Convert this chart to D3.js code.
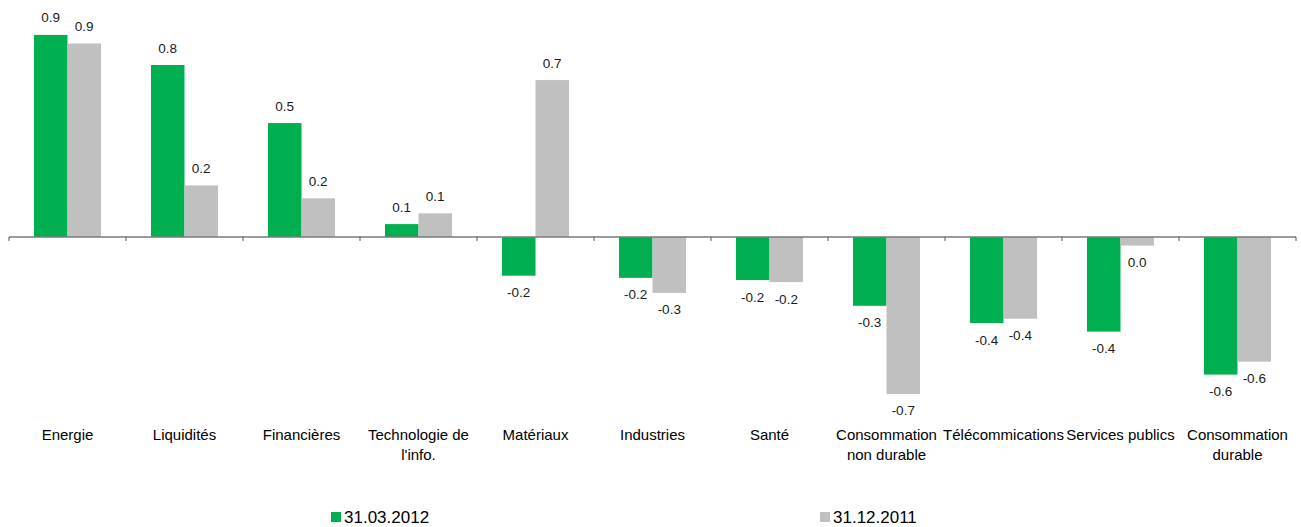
<!DOCTYPE html>
<html>
<head>
<meta charset="utf-8">
<script src="https://cdn.jsdelivr.net/npm/d3@7"></script>
<style>
  html, body { margin: 0; padding: 0; background: #fff; }
  svg { display: block; font-family: "Liberation Sans", Arial, sans-serif; }
</style>
</head>
<body>
<svg id="chart" width="1301" height="527"></svg>
<script>
const categories = [
  ["Energie"],
  ["Liquidités"],
  ["Financières"],
  ["Technologie de", "l'info."],
  ["Matériaux"],
  ["Industries"],
  ["Santé"],
  ["Consommation", "non durable"],
  ["Télécommications"],
  ["Services publics"],
  ["Consommation", "durable"]
];
const seriesNames = ["31.03.2012", "31.12.2011"];
const values2012 = [0.94, 0.80, 0.53, 0.06, -0.18, -0.19, -0.20, -0.32, -0.40, -0.44, -0.64];
const values2011 = [0.90, 0.24, 0.18, 0.11, 0.73, -0.26, -0.21, -0.73, -0.38, -0.04, -0.58];
const colors = ["#00B050", "#C0C0C0"];

const svg = d3.select("#chart");
const catKeys = categories.map((c, i) => i);
const series = [values2012, values2011];

const x0 = d3.scaleBand().domain(catKeys).range([9, 1296]).padding(0);
const x1 = d3.scaleBand().domain([0, 1]).range([0, x0.bandwidth()]).paddingInner(0).paddingOuter(0.745);
const y = d3.scaleLinear().domain([-1, 1]).range([237 + 215, 237 - 215]);

const fmt = v => Math.abs(v) < 0.05 ? "0.0" : v.toFixed(1);

const groups = svg.append("g").selectAll("g")
  .data(catKeys).join("g")
  .attr("transform", d => `translate(${x0(d)},0)`);

groups.selectAll("rect")
  .data(d => series.map((s, si) => ({ si, v: s[d] })))
  .join("rect")
  .attr("x", d => x1(d.si))
  .attr("width", x1.bandwidth())
  .attr("y", d => y(Math.max(0, d.v)))
  .attr("height", d => Math.abs(y(d.v) - y(0)))
  .attr("fill", d => colors[d.si]);

groups.selectAll("text.val")
  .data(d => series.map((s, si) => ({ si, v: s[d] })))
  .join("text")
  .attr("class", "val")
  .attr("x", d => x1(d.si) + x1.bandwidth() / 2)
  .attr("y", d => d.v >= 0 ? y(d.v) - 12.5 : y(d.v) + 21.5)
  .attr("text-anchor", "middle")
  .attr("font-size", 13.5)
  .attr("fill", "#1a1a1a")
  .text(d => fmt(d.v));

// axis
const axis = svg.append("g").attr("transform", `translate(0,${y(0)})`);
axis.append("line")
  .attr("x1", x0.range()[0]).attr("x2", x0.range()[1])
  .attr("y1", 0).attr("y2", 0)
  .attr("stroke", "#7a7a7a").attr("stroke-width", 1.5);
const tickPos = catKeys.map(k => x0(k)).concat([x0.range()[1]]);
axis.selectAll("line.tick").data(tickPos).join("line")
  .attr("class", "tick")
  .attr("x1", d => d).attr("x2", d => d)
  .attr("y1", 0).attr("y2", 4)
  .attr("stroke", "#555").attr("stroke-width", 1);

// category labels
const catLabels = svg.append("g").selectAll("text")
  .data(catKeys).join("text")
  .attr("x", d => x0(d) + x0.bandwidth() / 2)
  .attr("y", 440)
  .attr("text-anchor", "middle")
  .attr("font-size", 15)
  .attr("fill", "#000");
catLabels.selectAll("tspan")
  .data(d => categories[d])
  .join("tspan")
  .attr("x", function () { return d3.select(this.parentNode).attr("x"); })
  .attr("dy", (d, i) => i === 0 ? 0 : 20)
  .text(d => d);

// legend
const legendX = [331, 820];
const legend = svg.append("g").selectAll("g")
  .data(seriesNames).join("g")
  .attr("transform", (d, i) => `translate(${legendX[i]},512)`);
legend.append("rect").attr("width", 10).attr("height", 10)
  .attr("fill", (d, i) => colors[i]);
legend.append("text").attr("x", 13).attr("y", 11)
  .attr("font-size", 17).attr("fill", "#000")
  .text(d => d);
</script>
</body>
</html>
